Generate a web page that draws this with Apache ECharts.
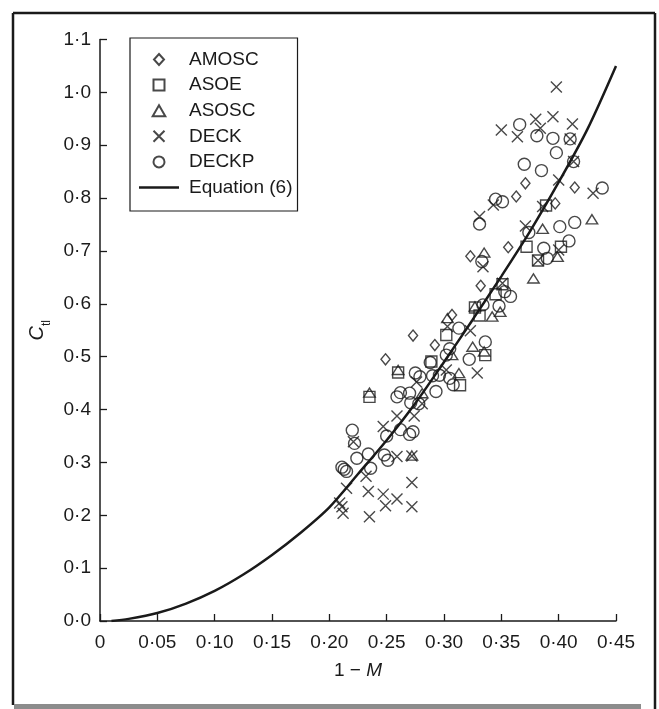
<!DOCTYPE html>
<html>
<head>
<meta charset="utf-8">
<script src="https://cdn.jsdelivr.net/npm/echarts@6/dist/echarts.min.js"></script>
<style>
  html, body { margin: 0; padding: 0; background: #fff; }
  #chart { width: 659px; height: 709px; }
</style>
</head>
<body>
<div id="chart"></div>
<script>
// Measured points (1 - M, C_tl) for each test configuration
const amoscPoints = [
  [0.249, 0.495], [0.273, 0.540], [0.292, 0.522], [0.307, 0.579], [0.323, 0.690],
  [0.332, 0.634], [0.356, 0.707], [0.363, 0.803], [0.371, 0.828], [0.397, 0.790],
  [0.414, 0.820]
];
const asoePoints = [
  [0.235, 0.424], [0.260, 0.470], [0.289, 0.491], [0.302, 0.541], [0.314, 0.446],
  [0.327, 0.593], [0.331, 0.578], [0.336, 0.503], [0.345, 0.618], [0.351, 0.637],
  [0.372, 0.708], [0.382, 0.682], [0.389, 0.786], [0.402, 0.708]
];
const asoscPoints = [
  [0.235, 0.432], [0.260, 0.475], [0.272, 0.313], [0.281, 0.431], [0.303, 0.573],
  [0.307, 0.503], [0.313, 0.469], [0.325, 0.519], [0.327, 0.595], [0.335, 0.510],
  [0.335, 0.697], [0.342, 0.576], [0.349, 0.585], [0.378, 0.648], [0.386, 0.742],
  [0.399, 0.689], [0.429, 0.760]
];
const deckPoints = [
  [0.209, 0.223], [0.211, 0.216], [0.212, 0.204], [0.215, 0.251], [0.221, 0.339],
  [0.232, 0.274], [0.234, 0.245], [0.235, 0.197], [0.247, 0.368], [0.247, 0.240],
  [0.249, 0.218], [0.259, 0.311], [0.259, 0.388], [0.259, 0.231], [0.272, 0.262],
  [0.272, 0.216], [0.272, 0.312], [0.274, 0.388], [0.281, 0.411], [0.276, 0.452],
  [0.302, 0.475], [0.303, 0.557], [0.323, 0.549], [0.329, 0.469], [0.334, 0.670],
  [0.331, 0.765], [0.343, 0.787], [0.351, 0.639], [0.371, 0.747], [0.382, 0.682],
  [0.386, 0.784], [0.400, 0.702], [0.400, 0.834], [0.430, 0.809], [0.413, 0.869],
  [0.410, 0.912], [0.350, 0.929], [0.364, 0.916], [0.380, 0.949], [0.384, 0.932],
  [0.395, 0.954], [0.412, 0.940], [0.398, 1.010]
];
const deckpPoints = [
  [0.211, 0.291], [0.213, 0.287], [0.215, 0.283], [0.220, 0.361], [0.222, 0.336],
  [0.224, 0.308], [0.234, 0.316], [0.236, 0.289], [0.248, 0.314], [0.251, 0.304],
  [0.250, 0.350], [0.262, 0.362], [0.270, 0.353], [0.273, 0.358], [0.259, 0.424],
  [0.262, 0.432], [0.270, 0.431], [0.271, 0.413], [0.278, 0.411], [0.275, 0.469],
  [0.279, 0.462], [0.288, 0.489], [0.290, 0.464], [0.296, 0.465], [0.293, 0.434],
  [0.302, 0.503], [0.305, 0.515], [0.305, 0.459], [0.308, 0.447], [0.313, 0.554],
  [0.322, 0.495], [0.336, 0.528], [0.334, 0.598], [0.348, 0.596], [0.353, 0.623],
  [0.358, 0.614], [0.333, 0.680], [0.331, 0.751], [0.345, 0.798], [0.351, 0.793],
  [0.374, 0.735], [0.387, 0.705], [0.390, 0.686], [0.401, 0.746], [0.409, 0.719],
  [0.414, 0.754], [0.438, 0.819], [0.413, 0.869], [0.370, 0.864], [0.385, 0.852],
  [0.398, 0.886], [0.395, 0.913], [0.381, 0.918], [0.366, 0.939], [0.410, 0.912]
];

// Equation (6) curve, sampled along 1 - M
const curveX = [0.01, 0.025, 0.05, 0.075, 0.10, 0.125, 0.15, 0.175, 0.20, 0.225,
                0.25, 0.275, 0.30, 0.325, 0.35, 0.375, 0.40, 0.425, 0.45];
const curveY = [0.000, 0.004, 0.015, 0.033, 0.057, 0.088, 0.125, 0.167, 0.215, 0.278,
                0.342, 0.412, 0.490, 0.570, 0.652, 0.737, 0.830, 0.930, 1.050];

const xTickLabels = ['0', '0·05', '0·10', '0·15', '0·20', '0·25', '0·30', '0·35', '0·40', '0·45'];
const yTickLabels = ['0·0', '0·1', '0·2', '0·3', '0·4', '0·5', '0·6', '0·7', '0·8', '0·9', '1·0', '1·1'];

const FONT = '"Liberation Sans", Arial, Helvetica, sans-serif';
const INK = '#1a1a1a';

// Marker outlines as paths so the legend keeps their proportions
const SYM = {
  diamond: 'path://M5,0L10,5.5L5,11L0,5.5Z',
  square: 'path://M0,0L10,0L10,10L0,10Z',
  triangle: 'path://M5,0L10.4,9.4L-0.4,9.4Z',
  cross: 'path://M0,0L10,10M10,0L0,10',
  circle: 'path://M10,5A5,5,0,1,1,0,5A5,5,0,1,1,10,5Z',
  bar: 'path://M0,0L40,0L40,2.6L0,2.6Z'
};

function hollow(name, symbol, size, points) {
  return {
    name: name,
    type: 'scatter',
    symbol: symbol,
    symbolSize: size,
    symbolKeepAspect: true,
    data: points,
    itemStyle: { color: 'rgba(0,0,0,0)', borderColor: INK, borderWidth: 1.4 },
    emphasis: { disabled: true },
    z: 3
  };
}

const chart = echarts.init(document.getElementById('chart'), null, { renderer: 'canvas' });

chart.setOption({
  backgroundColor: '#ffffff',
  animation: false,
  textStyle: { fontFamily: FONT, color: INK },
  grid: { left: 100, right: 43, top: 39.5, bottom: 88 },
  xAxis: {
    type: 'value',
    min: 0, max: 0.45, interval: 0.05,
    name: '1 − {m|M}',
    nameLocation: 'middle',
    nameGap: 40,
    nameTextStyle: {
      fontFamily: FONT, fontSize: 19, color: INK,
      rich: { m: { fontFamily: FONT, fontSize: 19, fontStyle: 'italic', color: INK } }
    },
    axisLine: { show: true, onZero: false, lineStyle: { color: INK, width: 1.5 } },
    axisTick: { show: true, inside: true, length: 7, lineStyle: { color: INK, width: 1.3 } },
    axisLabel: {
      fontFamily: FONT, fontSize: 19, color: INK, margin: 12,
      formatter: function (v) { return xTickLabels[Math.round(v / 0.05)]; }
    },
    splitLine: { show: false }
  },
  yAxis: {
    type: 'value',
    min: 0, max: 1.1, interval: 0.1,
    name: '{c|C}{s|tl}',
    nameLocation: 'middle',
    nameGap: 43,
    nameRotate: 90,
    nameTextStyle: {
      rich: {
        c: { fontFamily: FONT, fontSize: 20, fontStyle: 'italic', color: INK, lineHeight: 24, verticalAlign: 'middle' },
        s: { fontFamily: FONT, fontSize: 12, color: INK, lineHeight: 24, verticalAlign: 'bottom', padding: [0, 0, -3, 0] }
      }
    },
    axisLine: { show: true, onZero: false, lineStyle: { color: INK, width: 1.5 } },
    axisTick: { show: true, inside: true, length: 7, lineStyle: { color: INK, width: 1.3 } },
    axisLabel: {
      fontFamily: FONT, fontSize: 19, color: INK, margin: 9,
      formatter: function (v) { return yTickLabels[Math.round(v / 0.1)]; }
    },
    splitLine: { show: false }
  },
  legend: {
    orient: 'vertical',
    left: 130, top: 38,
    padding: [12, 5, 14, 9],
    itemGap: 6.6,
    itemWidth: 40,
    itemHeight: 11,
    symbolKeepAspect: true,
    borderColor: INK,
    borderWidth: 1.2,
    textStyle: { fontFamily: FONT, fontSize: 19, color: INK, padding: [0, 0, 0, 5] },
    data: [
      { name: 'AMOSC', icon: SYM.diamond },
      { name: 'ASOE', icon: SYM.square },
      { name: 'ASOSC', icon: SYM.triangle },
      { name: 'DECK', icon: SYM.cross },
      { name: 'DECKP', icon: SYM.circle },
      { name: 'Equation (6)', icon: SYM.bar }
    ]
  },
  series: [
    hollow('AMOSC', SYM.diamond, [10, 11], amoscPoints),
    hollow('ASOE', SYM.square, 11, asoePoints),
    hollow('ASOSC', SYM.triangle, [11.5, 10.5], asoscPoints),
    hollow('DECK', SYM.cross, 11, deckPoints),
    hollow('DECKP', SYM.circle, 12, deckpPoints),
    {
      name: 'Equation (6)',
      type: 'line',
      data: curveX.map(function (x, i) { return [x, curveY[i]]; }),
      smooth: 0.3,
      symbol: 'none',
      showSymbol: false,
      lineStyle: { color: INK, width: 2.5 },
      itemStyle: { color: INK },
      emphasis: { disabled: true },
      z: 2
    }
  ],
  graphic: [
    { type: 'line', shape: { x1: 13, y1: 13, x2: 655, y2: 13 }, style: { stroke: INK, lineWidth: 2.5 } },
    { type: 'line', shape: { x1: 13, y1: 13, x2: 13, y2: 705 }, style: { stroke: INK, lineWidth: 2.5 } },
    { type: 'line', shape: { x1: 655, y1: 13, x2: 655, y2: 709 }, style: { stroke: INK, lineWidth: 2.5 } },
    { type: 'rect', shape: { x: 14, y: 704, width: 627, height: 5 }, style: { fill: '#8c8c8c' } }
  ]
});
</script>
</body>
</html>
